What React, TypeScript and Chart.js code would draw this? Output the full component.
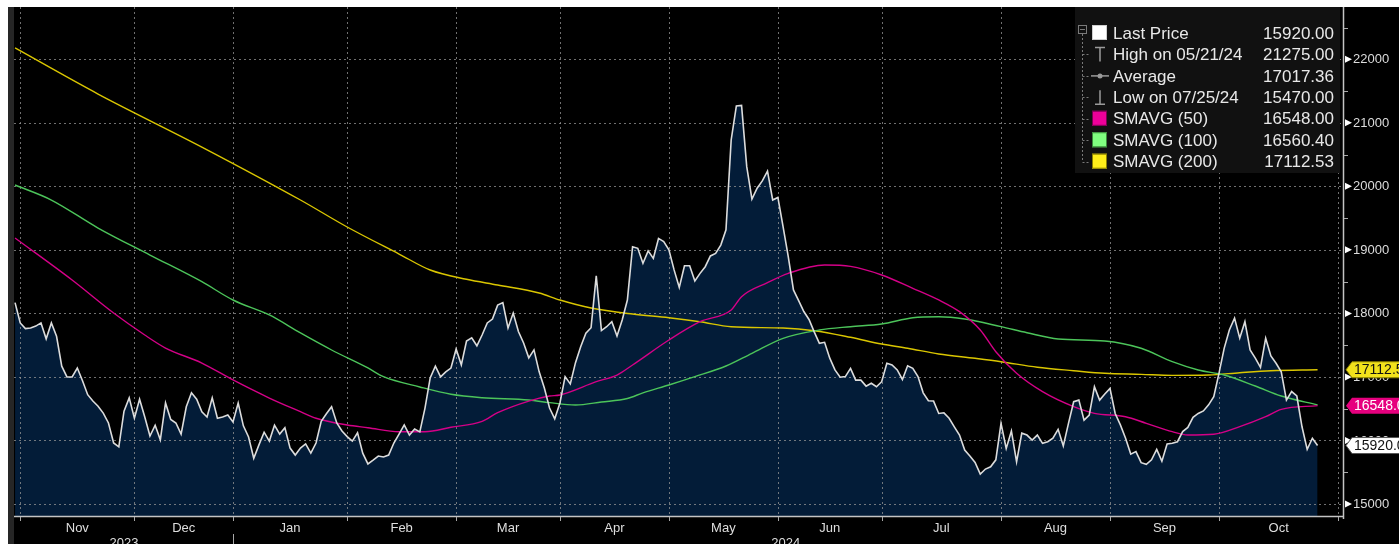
import React, { useEffect, useRef } from 'react';
import { Chart, registerables } from 'chart.js';

Chart.register(...registerables);

const W = 1399;
const H = 544;
const FONT = '"Liberation Sans", Arial, sans-serif';

// Daily last price, index = trading day (0 = 31 Oct 2023)
const PRICE: number[] = [
  18170, 17850, 17760, 17770, 17800, 17850, 17600, 17850, 17640, 17170,
  17000, 17000, 17140, 16940, 16720, 16620, 16540, 16430, 16275, 15960,
  15900, 16460, 16670, 16350, 16650, 16370, 16070, 16240, 16010, 16590,
  16330, 16275, 16100, 16530, 16750, 16650, 16450, 16370, 16670, 16350,
  16370, 16400, 16290, 16590, 16230, 16055, 15720, 15930, 16130, 15990,
  16240, 16100, 16200, 15880, 15770, 15880, 15945, 15800, 15960, 16300,
  16420, 16530, 16275, 16150, 16060, 15990, 16120, 15800, 15630, 15690,
  15755, 15740, 15770, 15960, 16100, 16245, 16085, 16180, 16135, 16510,
  16985, 17170, 17000, 17080, 17140, 17440, 17190, 17565, 17615, 17490,
  17660, 17850, 17910, 18130, 18170, 17770, 18005, 17715, 17535, 17300,
  17425, 17080, 16825, 16510, 16340, 16590, 17005, 16890, 17225, 17475,
  17690, 17775, 18590, 17730, 17790, 17870, 17645, 17895, 18210, 19050,
  19025, 18790, 18985, 18865, 19180, 19130, 19000, 18685, 18410, 18750,
  18750, 18510, 18630, 18735, 18905, 18945, 19075, 19315, 20730, 21265,
  21275, 20310, 19800, 19970, 20085, 20240, 19785, 19825, 19365, 18895,
  18370, 18200, 18030, 17905, 17710, 17530, 17545, 17295, 17110, 16995,
  17005, 17135, 16950, 16950, 16855, 16900, 16845, 16925, 17215, 17190,
  17110, 16960, 17175, 17135, 17005, 16750, 16625, 16620, 16425, 16435,
  16350, 16215, 16085, 15850, 15755, 15655, 15470, 15550, 15585, 15695,
  16270, 15875, 16150, 15665, 16115, 16085, 16005, 16085, 15955, 15980,
  16035, 16175, 15915, 16270, 16610, 16635, 16320, 16400, 16845, 16635,
  16730, 16820, 16425, 16245, 16035, 15785, 15825, 15650, 15625, 15695,
  15860, 15675, 15945, 15955, 15980, 16140, 16205, 16365, 16425, 16465,
  16560, 16690, 17055, 17450, 17740, 17925, 17610, 17870, 17425, 17295,
  17150, 17610, 17330, 17215, 17080, 16635, 16770, 16700, 16215, 15860,
  16035, 15920,
];

const SMA50_X = [0, 11, 19, 25, 29, 36, 42, 49, 55, 58, 64, 68, 74, 79, 84, 90, 93, 99, 103, 105, 112, 116, 119, 126, 132, 138, 140, 145, 149, 156, 161, 167, 173, 178, 182, 186, 189, 193, 198, 204, 208, 214, 218, 223, 226, 231, 236, 241, 244, 251];
const SMA50 = [19187, 18526, 18006, 17660, 17455, 17219, 16952, 16668, 16453, 16349, 16243, 16201, 16138, 16138, 16207, 16300, 16437, 16620, 16700, 16716, 16925, 17030, 17188, 17581, 17869, 18054, 18263, 18484, 18631, 18762, 18740, 18605, 18395, 18211, 18027, 17739, 17397, 17057, 16768, 16532, 16427, 16374, 16270, 16138, 16086, 16097, 16217, 16374, 16490, 16548.0];

const SMA100_X = [0, 7, 16, 26, 36, 42, 49, 55, 61, 68, 71, 78, 84, 90, 99, 103, 108, 113, 118, 121, 126, 131, 137, 142, 148, 155, 161, 167, 173, 178, 183, 190, 195, 201, 210, 217, 223, 228, 233, 239, 244, 251];
const SMA100 = [20021, 19785, 19344, 18919, 18499, 18211, 17975, 17692, 17424, 17141, 17004, 16842, 16727, 16673, 16637, 16595, 16558, 16605, 16660, 16750, 16873, 17004, 17172, 17372, 17608, 17739, 17791, 17833, 17932, 17948, 17912, 17791, 17696, 17597, 17566, 17451, 17240, 17109, 17030, 16857, 16700, 16560.4];

const SMA200_X = [0, 16, 36, 55, 64, 74, 80, 87, 93, 101, 105, 111, 119, 126, 132, 138, 148, 154, 161, 167, 172, 178, 185, 190, 197, 204, 210, 217, 223, 230, 236, 242, 251];
const SMA200 = [22178, 21453, 20619, 19785, 19360, 18935, 18683, 18537, 18447, 18321, 18211, 18085, 17990, 17932, 17869, 17790, 17770, 17728, 17624, 17518, 17451, 17361, 17293, 17240, 17152, 17098, 17057, 17041, 17025, 17030, 17067, 17098, 17112.53];

const MONTHS = ['Nov', 'Dec', 'Jan', 'Feb', 'Mar', 'Apr', 'May', 'Jun', 'Jul', 'Aug', 'Sep', 'Oct'];
const MONTH_STARTS = [1, 23, 42, 64, 85, 105, 126, 147, 167, 190, 211, 232, 255];
const YEARS = ['2023', '2024'];
const YEAR_BOUNDS = [0, 42, 255];
const Y_TICKS = [15000, 16000, 17000, 18000, 19000, 20000, 21000, 22000];
const Y_MINOR = [15500, 16500, 17500, 18500, 19500, 20500, 21500, 22500];

const LEGEND_LABELS = ['Last Price', 'High on 05/21/24', 'Average', 'Low on 07/25/24', 'SMAVG (50)', 'SMAVG (100)', 'SMAVG (200)'];
const LEGEND_VALUES = [15920.0, 21275.0, 17017.36, 15470.0, 16548.0, 16560.4, 17112.53];

const C_PRICE = '#dcdcdc';
const C_FILL = 'rgb(3,28,56)';
const C_SMA50 = 'rgb(212,0,135)';
const C_SMA100 = 'rgb(76,196,90)';
const C_SMA200 = 'rgb(218,198,0)';

const pts = (xs: number[], ys: number[]) => xs.map((x, i) => ({ x, y: ys[i] }));

const decor = {
  id: 'decor',
  beforeDraw(chart: any) {
    const ctx = chart.ctx;
    ctx.save();
    ctx.fillStyle = '#ffffff';
    ctx.fillRect(0, 0, W, H);
    ctx.fillStyle = '#000000';
    ctx.fillRect(8, 7, W - 8, H - 7);
    ctx.fillStyle = '#262626';
    ctx.fillRect(8, 7, 6, H - 7);
    ctx.restore();
  },
  beforeDatasetsDraw(chart: any) {
    const { ctx, chartArea: a, scales } = chart;
    const x = scales.x;
    const y = scales.y;
    ctx.save();
    ctx.beginPath();
    ctx.rect(a.left, a.top, a.right - a.left, a.bottom - a.top);
    ctx.clip();
    ctx.strokeStyle = 'rgba(150,150,150,0.75)';
    ctx.lineWidth = 1;
    ctx.setLineDash([2, 3]);
    MONTH_STARTS.forEach((m) => {
      const px = Math.round(x.getPixelForValue(m)) + 0.5;
      ctx.beginPath();
      ctx.moveTo(px, a.top);
      ctx.lineTo(px, a.bottom);
      ctx.stroke();
    });
    Y_TICKS.forEach((v) => {
      const py = Math.round(y.getPixelForValue(v)) + 0.5;
      ctx.beginPath();
      ctx.moveTo(a.left, py);
      ctx.lineTo(a.right, py);
      ctx.stroke();
    });
    ctx.restore();
  },
  afterDraw(chart: any) {
    const { ctx, chartArea: a, scales } = chart;
    const x = scales.x;
    const y = scales.y;
    ctx.save();

    // axis lines
    ctx.strokeStyle = '#c4c4c4';
    ctx.lineWidth = 1.5;
    ctx.beginPath();
    ctx.moveTo(a.left, a.bottom + 0.5);
    ctx.lineTo(a.right + 1, a.bottom + 0.5);
    ctx.stroke();
    ctx.beginPath();
    ctx.moveTo(a.right + 0.5, a.top);
    ctx.lineTo(a.right + 0.5, a.bottom + 3);
    ctx.stroke();

    // x ticks
    ctx.lineWidth = 1;
    ctx.strokeStyle = '#a8a8a8';
    MONTH_STARTS.forEach((m) => {
      const px = Math.round(x.getPixelForValue(m)) + 0.5;
      ctx.beginPath();
      ctx.moveTo(px, a.bottom + 1);
      ctx.lineTo(px, a.bottom + 5);
      ctx.stroke();
    });

    // month labels
    ctx.fillStyle = '#dedede';
    ctx.font = `13px ${FONT}`;
    ctx.textAlign = 'center';
    ctx.textBaseline = 'middle';
    MONTHS.forEach((m, i) => {
      const mid = (MONTH_STARTS[i] + MONTH_STARTS[i + 1]) / 2;
      ctx.fillText(m, x.getPixelForValue(mid), a.bottom + 12);
    });

    // year labels + separator
    ctx.textBaseline = 'top';
    YEARS.forEach((yr, i) => {
      const mid = (YEAR_BOUNDS[i] + YEAR_BOUNDS[i + 1]) / 2;
      ctx.fillText(yr, x.getPixelForValue(mid), a.bottom + 21);
    });
    const sep = Math.round(x.getPixelForValue(YEAR_BOUNDS[1])) + 0.5;
    ctx.strokeStyle = '#a8a8a8';
    ctx.beginPath();
    ctx.moveTo(sep, a.bottom + 18);
    ctx.lineTo(sep, H);
    ctx.stroke();

    // y minor ticks
    Y_MINOR.forEach((v) => {
      const py = Math.round(y.getPixelForValue(v)) + 0.5;
      ctx.beginPath();
      ctx.moveTo(a.right + 1, py);
      ctx.lineTo(a.right + 5, py);
      ctx.stroke();
    });
    // y major triangles + labels
    Y_TICKS.forEach((v) => {
      const py = y.getPixelForValue(v);
      ctx.fillStyle = '#ffffff';
      ctx.beginPath();
      ctx.moveTo(a.right + 2, py - 3.5);
      ctx.lineTo(a.right + 2, py + 3.5);
      ctx.lineTo(a.right + 9, py);
      ctx.closePath();
      ctx.fill();
      ctx.fillStyle = '#dcdcdc';
      ctx.font = `13px ${FONT}`;
      ctx.textAlign = 'left';
      ctx.textBaseline = 'middle';
      ctx.fillText(String(v), a.right + 10, py + 0.5);
    });

    // value tags on the right
    const tag = (val: number, bg: string, fg: string, stroke?: string) => {
      const py = y.getPixelForValue(val);
      const x0 = a.right + 3;
      ctx.beginPath();
      ctx.moveTo(x0, py);
      ctx.lineTo(x0 + 6, py - 8);
      ctx.lineTo(W + 2, py - 8);
      ctx.lineTo(W + 2, py + 8);
      ctx.lineTo(x0 + 6, py + 8);
      ctx.closePath();
      ctx.fillStyle = bg;
      ctx.fill();
      if (stroke) {
        ctx.strokeStyle = stroke;
        ctx.lineWidth = 1;
        ctx.stroke();
      }
      ctx.fillStyle = fg;
      ctx.font = `14px ${FONT}`;
      ctx.textAlign = 'left';
      ctx.textBaseline = 'middle';
      ctx.fillText(val.toFixed(2), x0 + 8, py + 0.5);
    };
    tag(SMA200[SMA200.length - 1], '#f2e21c', '#111111', '#8a7f00');
    tag(SMA50[SMA50.length - 1], '#e6007e', '#ffffff');
    tag(PRICE[PRICE.length - 1], '#ffffff', '#111111', '#555555');

    // legend box
    const LX = 1075;
    const LY = 7;
    const LW = 265;
    const LH = 166;
    ctx.fillStyle = '#111111';
    ctx.fillRect(LX, LY, LW, LH);
    const rowY = (i: number) => 33 + i * 21.45;

    // tree connectors
    ctx.strokeStyle = '#7a7a7a';
    ctx.lineWidth = 1;
    ctx.strokeRect(1078.5, 25.5, 8, 8);
    ctx.beginPath();
    ctx.moveTo(1080, 29.5);
    ctx.lineTo(1085, 29.5);
    ctx.stroke();
    ctx.setLineDash([2, 2]);
    ctx.beginPath();
    ctx.moveTo(1082.5, 34);
    ctx.lineTo(1082.5, rowY(6));
    ctx.stroke();
    for (let i = 1; i < 7; i++) {
      const ry = Math.round(rowY(i)) + 0.5;
      ctx.beginPath();
      ctx.moveTo(1082.5, ry);
      ctx.lineTo(1090, ry);
      ctx.stroke();
    }
    ctx.setLineDash([]);

    // icons
    const sq = (i: number, c: string, border: string) => {
      const ry = rowY(i);
      ctx.fillStyle = c;
      ctx.fillRect(1092, ry - 8, 15, 15);
      ctx.strokeStyle = border;
      ctx.lineWidth = 1;
      ctx.strokeRect(1092.5, ry - 7.5, 14, 14);
    };
    sq(0, '#ffffff', '#cfcfcf');
    ctx.strokeStyle = '#9a9a9a';
    ctx.lineWidth = 1.5;
    let py = rowY(1);
    ctx.beginPath();
    ctx.moveTo(1095, py - 7);
    ctx.lineTo(1105, py - 7);
    ctx.moveTo(1100, py - 7);
    ctx.lineTo(1100, py + 7);
    ctx.stroke();
    py = rowY(2);
    ctx.beginPath();
    ctx.moveTo(1091, py);
    ctx.lineTo(1109, py);
    ctx.stroke();
    ctx.fillStyle = '#9a9a9a';
    ctx.beginPath();
    ctx.arc(1100, py, 2.5, 0, Math.PI * 2);
    ctx.fill();
    py = rowY(3);
    ctx.beginPath();
    ctx.moveTo(1100, py - 7);
    ctx.lineTo(1100, py + 7);
    ctx.moveTo(1095, py + 7);
    ctx.lineTo(1105, py + 7);
    ctx.stroke();
    sq(4, '#ee0099', '#7a0050');
    sq(5, '#80ff80', '#3a8a3a');
    sq(6, '#ffee1a', '#8a7f00');

    // legend text
    ctx.font = `17px ${FONT}`;
    ctx.textBaseline = 'middle';
    ctx.fillStyle = '#e8e8e8';
    LEGEND_LABELS.forEach((t, i) => {
      ctx.textAlign = 'left';
      ctx.fillText(t, 1113, rowY(i) + 1);
      ctx.textAlign = 'right';
      ctx.fillText(LEGEND_VALUES[i].toFixed(2), 1334, rowY(i) + 1);
    });

    ctx.restore();
  },
};

export default function App() {
  const ref = useRef<HTMLCanvasElement | null>(null);

  useEffect(() => {
    if (!ref.current) return;
    const chart = new Chart(ref.current, {
      type: 'line',
      data: {
        datasets: [
          {
            label: 'SMAVG (200)',
            data: pts(SMA200_X, SMA200),
            borderColor: C_SMA200,
            borderWidth: 1.4,
            pointRadius: 0,
            fill: false,
            cubicInterpolationMode: 'monotone',
            order: 3,
          },
          {
            label: 'SMAVG (100)',
            data: pts(SMA100_X, SMA100),
            borderColor: C_SMA100,
            borderWidth: 1.4,
            pointRadius: 0,
            fill: false,
            cubicInterpolationMode: 'monotone',
            order: 2,
          },
          {
            label: 'SMAVG (50)',
            data: pts(SMA50_X, SMA50),
            borderColor: C_SMA50,
            borderWidth: 1.4,
            pointRadius: 0,
            fill: false,
            cubicInterpolationMode: 'monotone',
            order: 1,
          },
          {
            label: 'Last Price',
            data: PRICE.map((v, i) => ({ x: i, y: v })),
            borderColor: C_PRICE,
            backgroundColor: C_FILL,
            borderWidth: 1.6,
            pointRadius: 0,
            fill: 'start',
            tension: 0,
            order: 0,
          },
        ],
      } as any,
      options: {
        responsive: false,
        maintainAspectRatio: false,
        animation: false,
        layout: { padding: { left: 14, top: 7, right: 0, bottom: 0 } },
        plugins: {
          legend: { display: false },
          tooltip: { enabled: false },
          filler: { drawTime: 'beforeDatasetsDraw' },
        } as any,
        scales: {
          x: {
            type: 'linear',
            min: -0.2,
            max: 255.9,
            afterBuildTicks: (s: any) => {
              s.ticks = MONTH_STARTS.map((v) => ({ value: v }));
            },
            afterFit: (s: any) => {
              s.height = 28;
            },
            ticks: { display: false },
            grid: { display: false },
            border: { display: false },
          },
          y: {
            type: 'linear',
            position: 'right',
            min: 14811,
            max: 22823,
            afterBuildTicks: (s: any) => {
              s.ticks = Y_TICKS.map((v) => ({ value: v }));
            },
            afterFit: (s: any) => {
              s.width = 56;
            },
            ticks: { display: false },
            grid: { display: false, drawTicks: false },
            border: { display: false },
          },
        } as any,
      },
      plugins: [decor],
    });
    return () => chart.destroy();
  }, []);

  return (
    <div style={{ position: 'absolute', left: 0, top: 0, width: W, height: H, overflow: 'hidden', background: '#ffffff' }}>
      <canvas ref={ref} width={W} height={H} style={{ display: 'block', width: W, height: H }} />
    </div>
  );
}
